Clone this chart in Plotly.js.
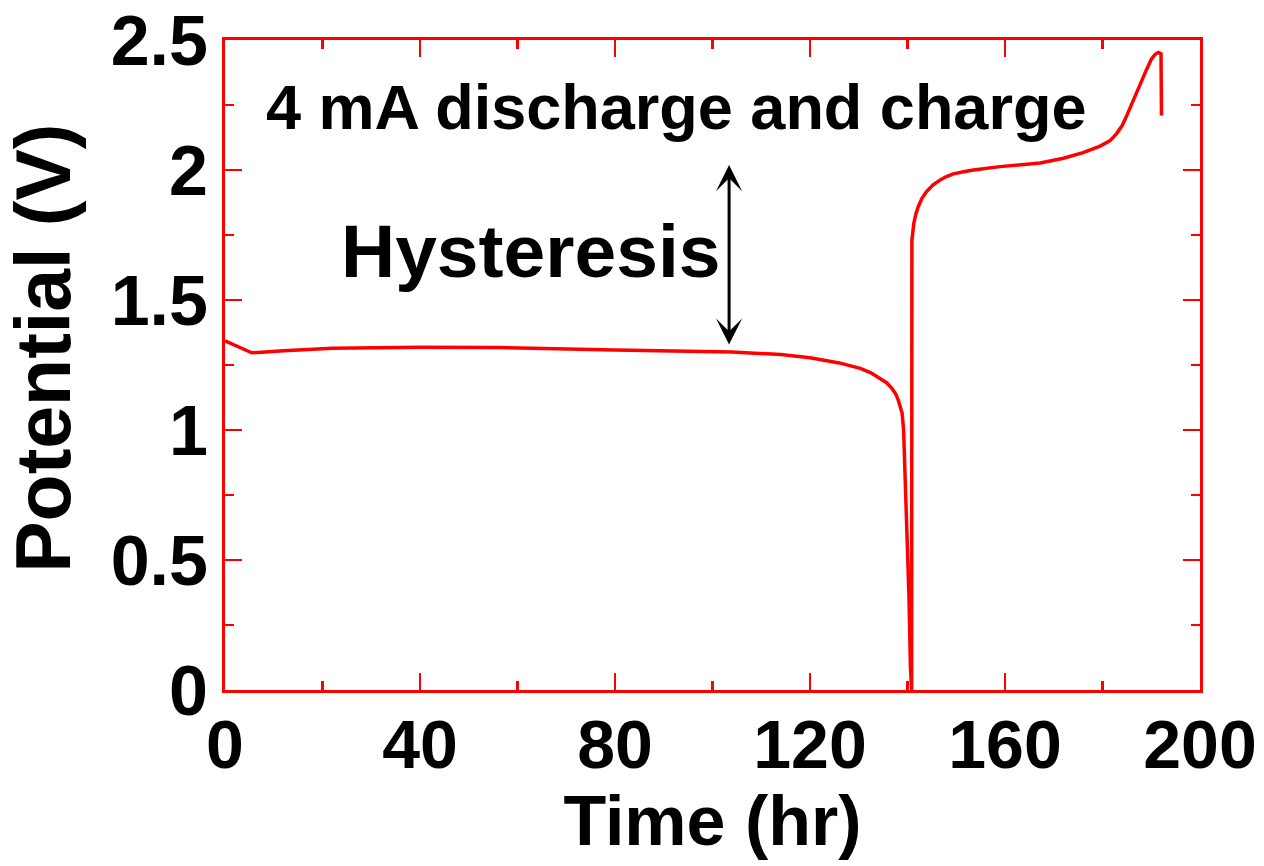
<!DOCTYPE html>
<html>
<head>
<meta charset="utf-8">
<script src="https://cdn.plot.ly/plotly-3.0.1.min.js"></script>
<style>html,body{margin:0;padding:0;background:#fff;}#chart{width:1264px;height:866px;}</style>
</head>
<body>
<div id="chart"></div>
<script>
// Time (hr) and potential (V)
const timeHr = [0, 5.5, 12, 22, 40, 56, 80, 104, 114, 120, 126, 130.3, 132.5, 134.4, 135.7, 136.8, 137.6, 138.1, 138.6, 138.9, 139.2, 139.5, 139.9, 140.3, 140.6, 140.7,
                140.85, 140.9, 141.1, 141.3, 141.7, 142.2, 143.0, 143.9, 145.2, 146.7, 148.0, 149.4, 151.5, 153.5, 159, 161, 167.2, 172, 176, 179.5, 181.5, 182.9, 184.0, 185.0, 186.0, 187.0, 188.0, 189.0, 190.0, 190.8, 191.5, 192.0, 192.1];
const potentialV = [1.343, 1.297, 1.305, 1.314, 1.318, 1.317, 1.308, 1.300, 1.290, 1.278, 1.258, 1.237, 1.220, 1.199, 1.182, 1.160, 1.138, 1.115, 1.088, 1.064, 1.0, 0.84, 0.64, 0.36, 0.09, 0.0,
                0.0, 1.73, 1.77, 1.795, 1.83, 1.859, 1.892, 1.917, 1.942, 1.962, 1.975, 1.985, 1.993, 2.0, 2.013, 2.016, 2.027, 2.045, 2.067, 2.092, 2.112, 2.14, 2.17, 2.21, 2.255, 2.295, 2.34, 2.385, 2.425, 2.445, 2.452, 2.447, 2.21];

const xTicks = [0, 40, 80, 120, 160, 200];
const yTicks = [0, 0.5, 1, 1.5, 2, 2.5];

const xTitle = "Time (hr)";
const yTitle = "Potential (V)";
const noteText = "4 mA discharge and charge";
const hystText = "Hysteresis";
const arrowX = 103.4, arrowTop = 2.019, arrowBottom = 1.323;

const FONT = "Arial, 'Liberation Sans', sans-serif";
const RED = "#ff0000";

const trace = {
  x: timeHr, y: potentialV, type: "scatter", mode: "lines",
  line: {color: RED, width: 3.5}, showlegend: false, hoverinfo: "skip"
};

const axisCommon = {
  showline: true, linecolor: RED, linewidth: 3, mirror: "ticks",
  ticks: "inside", tickcolor: RED, tickwidth: 2.5, ticklen: 17,
  showgrid: false, zeroline: false,
};

const layout = {
  width: 1264, height: 866,
  margin: {l: 225, r: 64, t: 40, b: 176},
  paper_bgcolor: "#fff", plot_bgcolor: "#fff",
  font: {family: FONT},
  xaxis: Object.assign({}, axisCommon, {
    range: [0, 200], tickvals: xTicks, ticktext: xTicks.map(String),
    tickfont: {family: FONT, size: 68, color: "#000", weight: "bold"},
    minor: {dtick: 20, tick0: 0, ticks: "inside", ticklen: 9, tickcolor: RED, tickwidth: 2.5},
    title: {text: xTitle, font: {family: FONT, size: 70, color: "#000", weight: "bold"}, standoff: 10},
    ticklabelstandoff: -7
  }),
  yaxis: Object.assign({}, axisCommon, {
    range: [0, 2.5], tickvals: yTicks, ticktext: yTicks.map(String),
    tickfont: {family: FONT, size: 70, color: "#000", weight: "bold"},
    minor: {dtick: 0.25, tick0: 0, ticks: "inside", ticklen: 9, tickcolor: RED, tickwidth: 2.5},
    ticklabelstandoff: 0
  }),
  annotations: [
    {x: 0, y: 0.525, xref: "paper", yref: "paper", text: yTitle, showarrow: false, textangle: -90,
     xanchor: "right", yanchor: "middle", xshift: -137,
     font: {family: FONT, size: 77, color: "#000", weight: "bold"}},
    {x: 92.5, y: 2.243, xref: "x", yref: "y", text: noteText, showarrow: false,
     xanchor: "center", yanchor: "middle", font: {family: FONT, size: 63, color: "#000", weight: "bold"}},
    {x: 62.6, y: 1.69, xref: "x", yref: "y", text: hystText, showarrow: false,
     xanchor: "center", yanchor: "middle", font: {family: FONT, size: 75, color: "#000", weight: "bold"}},
    {x: arrowX, y: arrowTop, ax: arrowX, ay: arrowBottom, xref: "x", yref: "y", axref: "x", ayref: "y",
     text: "", showarrow: true, arrowhead: 3, startarrowhead: 3, arrowside: "end+start",
     arrowwidth: 3, arrowsize: 1.45, startarrowsize: 1.45, arrowcolor: "#000", standoff: 0, startstandoff: 0}
  ]
};

Plotly.newPlot("chart", [trace], layout, {displayModeBar: false, staticPlot: true});
</script>
</body>
</html>
